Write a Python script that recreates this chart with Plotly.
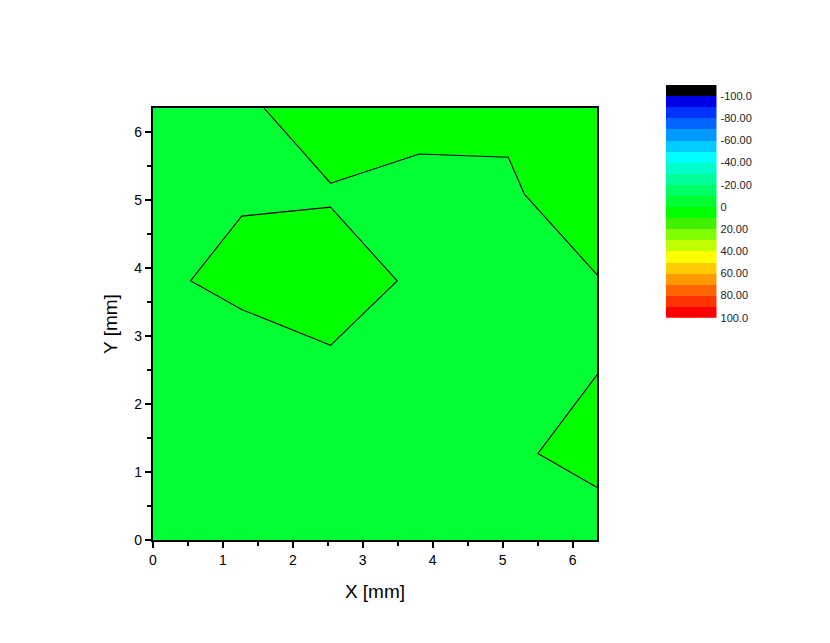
import plotly.graph_objects as go

# ---- data ----
x_mm = [0, 1.27, 2.54, 3.81, 5.08, 6.35]
y_mm = [0, 1.27, 2.54, 3.81, 5.08, 6.35]
# z[row = y index][col = x index]
z_vals = [
    [-4.5, -5.2, -4.8, -3.9, -4.4, -6.15],
    [-4.1, -5.6, -4.3, -3.2, -1.99, 4.0],
    [-3.7, -6.06, -1.98, -2.9, -2.4, -0.38],
    [-2.21, 3.0, 5.85, -1.95, -2.6, -0.50],
    [-3.1, -1.0, -1.0, -3.53, -1.5, 6.70],
    [-3.4, -2.23, 6.63, 4.0, 1.98, 5.0],
]
level_start = -100
level_end = 100
level_step = 10
cbar_tickvals = [-100, -80, -60, -40, -20, 0, 20, 40, 60, 80, 100]
cbar_ticktext = ["-100.0", "-80.00", "-60.00", "-40.00", "-20.00", "0",
                 "20.00", "40.00", "60.00", "80.00", "100.0"]
# band colours: below -100, then each 10-wide band from -100 up to 100, then above 100
band_colors = [
    "#000000",
    "#0000E6", "#0033FF", "#0066FF", "#0099FF", "#00CCFF",
    "#00FFFF", "#00FFCC", "#00FF99", "#00FF66", "#00FF33",
    "#00FF00", "#40F000", "#80FF00", "#C0FF00", "#FFFF00",
    "#FFCC00", "#FF9900", "#FF6600", "#FF3300", "#FF0000",
    "#FF0000",
]

n = len(band_colors) - 1
colorscale = [[k / n, c] for k, c in enumerate(band_colors)]

# colour-bar cells: centres of bands from (start - step) to end
cb_centers = [level_start - level_step / 2 + level_step * k for k in range(n)]
cb_z = [[v] for v in cb_centers]

W, H = 830, 643
px_l, px_r, px_t, px_b = 141.5, 588, 101.4, 538.6
cb_l, cb_r, cb_t, cb_b = 657, 708, 78.0, 313.7

fig = go.Figure()
fig.add_trace(go.Contour(
    x=x_mm, y=y_mm, z=z_vals,
    contours=dict(start=level_start, end=level_end, size=level_step,
                  coloring="fill", showlines=True),
    line=dict(color="black", width=1.1, smoothing=0),
    colorscale=colorscale,
    zmin=level_start - level_step / 2, zmax=level_end + level_step / 2,
    showscale=False, hoverinfo="x+y+z",
))
fig.add_trace(go.Heatmap(
    x=[0], y=cb_centers, z=cb_z,
    colorscale=colorscale,
    zmin=level_start - level_step / 2, zmax=level_end + level_step / 2,
    showscale=False, xaxis="x2", yaxis="y2", hoverinfo="skip",
))

font_family = "Liberation Sans, Arial, sans-serif"
fig.update_layout(
    width=W, height=H,
    margin=dict(l=0, r=0, t=0, b=0),
    paper_bgcolor="white", plot_bgcolor="white",
    font=dict(family=font_family, color="black"),
    showlegend=False,
    xaxis=dict(
        domain=[px_l / W, px_r / W], range=[0, 6.35], anchor="y",
        showgrid=False, zeroline=False,
        showline=True, linecolor="black", linewidth=2, mirror=True,
        ticks="outside", ticklen=6, tickwidth=1.5, tickcolor="black",
        dtick=1, tick0=0,
        minor=dict(dtick=0.5, ticks="outside", ticklen=4, tickwidth=1.5, tickcolor="black"),
        tickfont=dict(size=14),
        title=dict(text="X [mm]", font=dict(size=19), standoff=18),
    ),
    yaxis=dict(
        domain=[1 - px_b / H, 1 - px_t / H], range=[0, 6.35], anchor="x",
        showgrid=False, zeroline=False,
        showline=True, linecolor="black", linewidth=2, mirror=True,
        ticks="outside", ticklen=6, tickwidth=1.5, tickcolor="black",
        dtick=1, tick0=0,
        minor=dict(dtick=0.5, ticks="outside", ticklen=4, tickwidth=1.5, tickcolor="black"),
        tickfont=dict(size=14),
        title=dict(text="Y [mm]", font=dict(size=19), standoff=12),
    ),
    xaxis2=dict(
        domain=[cb_l / W, cb_r / W], anchor="y2", visible=False,
        range=[-0.5, 0.5], fixedrange=True,
    ),
    yaxis2=dict(
        domain=[1 - cb_b / H, 1 - cb_t / H], anchor="x2", side="right",
        range=[level_end, level_start - level_step],
        showgrid=False, zeroline=False, showline=False,
        ticks="", tickvals=cbar_tickvals, ticktext=cbar_ticktext,
        tickfont=dict(size=11, color="#222222"), ticklabelstandoff=3,
        fixedrange=True,
    ),
)

fig.write_html("out.html")
